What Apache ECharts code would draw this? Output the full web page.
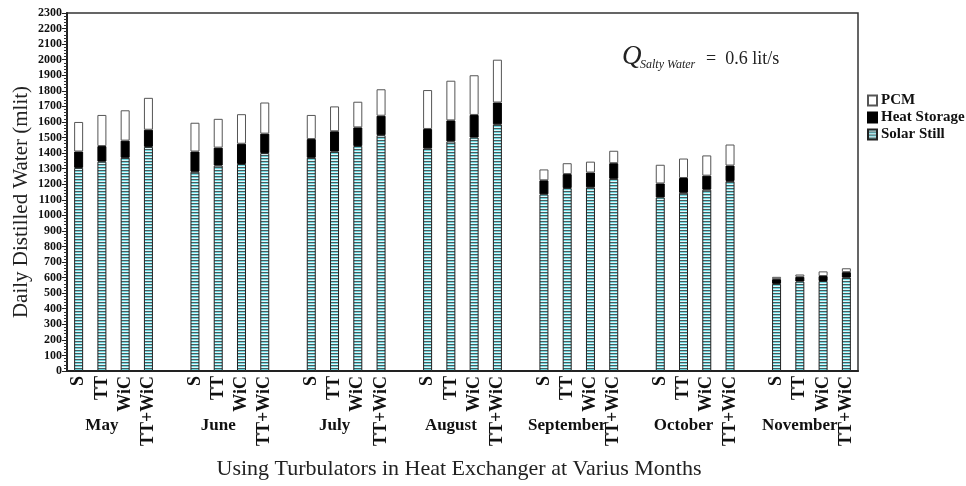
<!DOCTYPE html>
<html>
<head>
<meta charset="utf-8">
<script src="https://cdn.jsdelivr.net/npm/echarts@6/dist/echarts.min.js"></script>
<style>
  html, body { margin: 0; padding: 0; background: #fff; }
  #chart { width: 966px; height: 486px; }
</style>
</head>
<body>
<div id="chart"></div>
<script>
// months and heat exchanger cases
var months = ['May', 'June', 'July', 'August', 'September', 'October', 'November'];
var cases = ['S', 'TT', 'WiC', 'TT+WiC'];

// stacked parts (mlit), 4 cases per month
var solarStill = [
  1305, 1345, 1370, 1440,
  1280, 1320, 1330, 1400,
  1370, 1410, 1445, 1515,
  1430, 1475, 1500, 1585,
  1135, 1175, 1180, 1235,
  1115, 1145, 1165, 1220,
  560, 575, 578, 600
];
var heatStorage = [
  105, 100, 110, 110,
  130, 115, 130, 125,
  120, 130, 120, 125,
  125, 135, 145, 140,
  90, 90, 95, 100,
  90, 95, 90, 100,
  30, 30, 32, 35
];
var pcm = [
  190, 200, 195, 205,
  185, 185, 190, 200,
  155, 160, 165, 170,
  250, 255, 255, 275,
  70, 70, 70, 80,
  120, 125, 130, 135,
  15, 15, 30, 25
];

var serif = '"Liberation Serif", "Times New Roman", serif';

// one empty slot between months
var caseLabels = [], monthLabels = [];
function spread(arr) {
  var out = [];
  for (var g = 0; g < months.length; g++) {
    for (var c = 0; c < cases.length; c++) out.push(arr[g * cases.length + c]);
    if (g < months.length - 1) out.push('-');
  }
  return out;
}
for (var g = 0; g < months.length; g++) {
  for (var c = 0; c < cases.length; c++) {
    caseLabels.push(cases[c]);
    monthLabels.push(c == 1 ? months[g] : '');
  }
  if (g < months.length - 1) { caseLabels.push(''); monthLabels.push(''); }
}

// striped fill for solar still
var cv = document.createElement('canvas');
cv.width = 4; cv.height = 3;
var cx = cv.getContext('2d');
cx.fillStyle = '#6ad6de'; cx.fillRect(0, 0, 4, 3);
cx.fillStyle = '#e2f8fa'; cx.fillRect(0, 1, 4, 1);
cx.fillStyle = '#4a5a5c'; cx.fillRect(0, 2, 4, 1);
var stripes = { image: cv, repeat: 'repeat' };

var myChart = echarts.init(document.getElementById('chart'));

var option = {
  backgroundColor: '#fff',
  animation: false,
  grid: {
    left: 67, right: 108, top: 13, bottom: 115,
    show: true, borderColor: '#333', borderWidth: 1.5
  },
  legend: {
    orient: 'vertical',
    left: 862, top: 88,
    icon: 'rect',
    itemWidth: 9, itemHeight: 10, itemGap: 2,
    data: ['PCM', 'Heat Storage', 'Solar Still'],
    textStyle: { fontFamily: serif, fontWeight: 'bold', fontSize: 15, color: '#111', padding: [0, 0, 0, -1] }
  },
  xAxis: [{
    type: 'category',
    data: caseLabels,
    axisLine: { lineStyle: { color: '#222', width: 2 } },
    axisTick: { show: false },
    axisLabel: {
      interval: 0, rotate: 90, margin: 5,
      fontFamily: serif, fontWeight: 'bold', fontSize: 18, color: '#111'
    }
  }, {
    type: 'category',
    position: 'bottom',
    offset: 46,
    data: monthLabels,
    axisLine: { show: false },
    axisTick: { show: false },
    axisLabel: {
      interval: 0, margin: 0,
      fontFamily: serif, fontWeight: 'bold', fontSize: 17, color: '#111'
    }
  }],
  yAxis: {
    type: 'value',
    min: 0, max: 2300, interval: 100,
    axisLine: { show: true, lineStyle: { color: '#222', width: 2 } },
    axisTick: { show: true, length: 5, lineStyle: { color: '#222' } },
    minorTick: { show: true, splitNumber: 5, length: 3, lineStyle: { color: '#333' } },
    splitLine: { show: false },
    axisLabel: {
      margin: 5, fontFamily: serif, fontWeight: 'bold', fontSize: 12, color: '#111',
      formatter: function (v) { return String(v); }
    }
  },
  series: [{
    name: 'Solar Still',
    type: 'bar',
    stack: 'total',
    barWidth: 9,
    data: spread(solarStill),
    itemStyle: { color: stripes, borderColor: '#222', borderWidth: 1 }
  }, {
    name: 'Heat Storage',
    type: 'bar',
    stack: 'total',
    barWidth: 9,
    data: spread(heatStorage),
    itemStyle: { color: '#000', borderColor: '#000', borderWidth: 1 }
  }, {
    name: 'PCM',
    type: 'bar',
    stack: 'total',
    barWidth: 9,
    data: spread(pcm),
    itemStyle: { color: '#fff', borderColor: '#555', borderWidth: 1 }
  }],
  graphic: [{
    type: 'text', x: 21, y: 202, rotation: Math.PI / 2,
    style: { text: 'Daily Distilled Water (mlit)', font: '21px ' + serif, fill: '#222', align: 'center', verticalAlign: 'middle' }
  }, {
    type: 'text', x: 459, y: 469,
    style: { text: 'Using Turbulators in Heat Exchanger at Varius Months', font: '22px ' + serif, fill: '#222', align: 'center', verticalAlign: 'middle' }
  }, {
    type: 'text', x: 622, y: 57,
    style: { text: 'Q', font: 'italic 27px ' + serif, fill: '#222', verticalAlign: 'middle' }
  }, {
    type: 'text', x: 640, y: 65,
    style: { text: 'Salty Water', font: 'italic 12px ' + serif, fill: '#222', verticalAlign: 'middle' }
  }, {
    type: 'text', x: 706, y: 59,
    style: { text: '=  0.6 lit/s', font: '18px ' + serif, fill: '#222', verticalAlign: 'middle' }
  }]
};

myChart.setOption(option);
</script>
</body>
</html>
